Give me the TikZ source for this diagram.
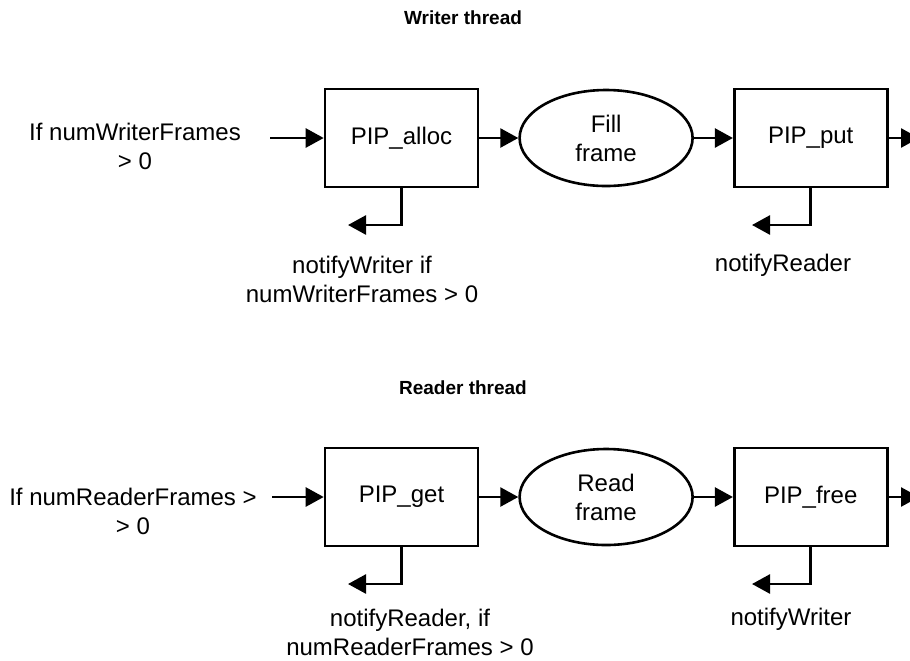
\documentclass[tikz,border=0pt]{standalone}
\usepackage{fontspec}
\setmainfont{Liberation Sans}
\usetikzlibrary{arrows.meta,shapes,positioning}

\begin{document}
\begin{tikzpicture}[x=0.5pt,y=-0.5pt,node distance=19.5pt,line width=1.3pt,
  box/.style={draw,minimum width=76.5pt,minimum height=49pt,inner sep=0pt,
              font=\fontsize{12}{14.5}\selectfont},
  oval/.style={draw,ellipse,minimum width=86.5pt,minimum height=48pt,inner sep=0pt,
               align=center,font=\fontsize{12}{14.5}\selectfont},
  note/.style={align=center,font=\fontsize{12}{14.5}\selectfont},
  title/.style={font=\fontsize{9.5}{11}\selectfont\bfseries},
  flow/.style={-{Triangle[length=9pt,width=9.5pt]}}]
  \useasboundingbox (0,0) rectangle (910,660);

  % writer side
  \node[title] (wtitle) at (463,18) {Writer thread};
  \node[box] (alloc) at (401.5,138) {PIP\_alloc};
  \node[oval,right=of alloc] (fill) {Fill\\frame};
  \node[box,right=of fill] (put) {PIP\_put};
  \node[note] (wcond) at (135,146.5) {If numWriterFrames\\> 0};
  \node[note] (allocmsg) at (362,279) {notifyWriter if\\numWriterFrames > 0};
  \node[note] (putmsg) at (783,265) {notifyReader};
  \coordinate (win) at (270,138);
  \coordinate (wout) at (919,138);
  \coordinate (allocnote) at (348,225);
  \coordinate (putnote) at (752,225);

  \draw[flow] (win) -- (alloc);
  \draw[flow] (alloc) -- (fill);
  \draw[flow] (fill) -- (put);
  \draw[flow] (put) -- (wout);
  \draw[flow] (alloc.south) |- (allocnote);
  \draw[flow] (put.south) |- (putnote);

  % reader side
  \node[title] (rtitle) at (463,388) {Reader thread};
  \node[box] (get) at (401.5,497) {PIP\_get};
  \node[oval,right=of get] (read) {Read\\frame};
  \node[box,right=of read] (free) {PIP\_free};
  \node[note] (rcond) at (133,511.5) {If numReaderFrames >\\> 0};
  \node[note] (getmsg) at (410,632) {notifyReader, if\\numReaderFrames > 0};
  \node[note] (freemsg) at (791,619) {notifyWriter};
  \coordinate (rin) at (272,497);
  \coordinate (rout) at (919,497);
  \coordinate (getnote) at (348,584);
  \coordinate (freenote) at (752,584);

  \draw[flow] (rin) -- (get);
  \draw[flow] (get) -- (read);
  \draw[flow] (read) -- (free);
  \draw[flow] (free) -- (rout);
  \draw[flow] (get.south) |- (getnote);
  \draw[flow] (free.south) |- (freenote);
\end{tikzpicture}
\end{document}
